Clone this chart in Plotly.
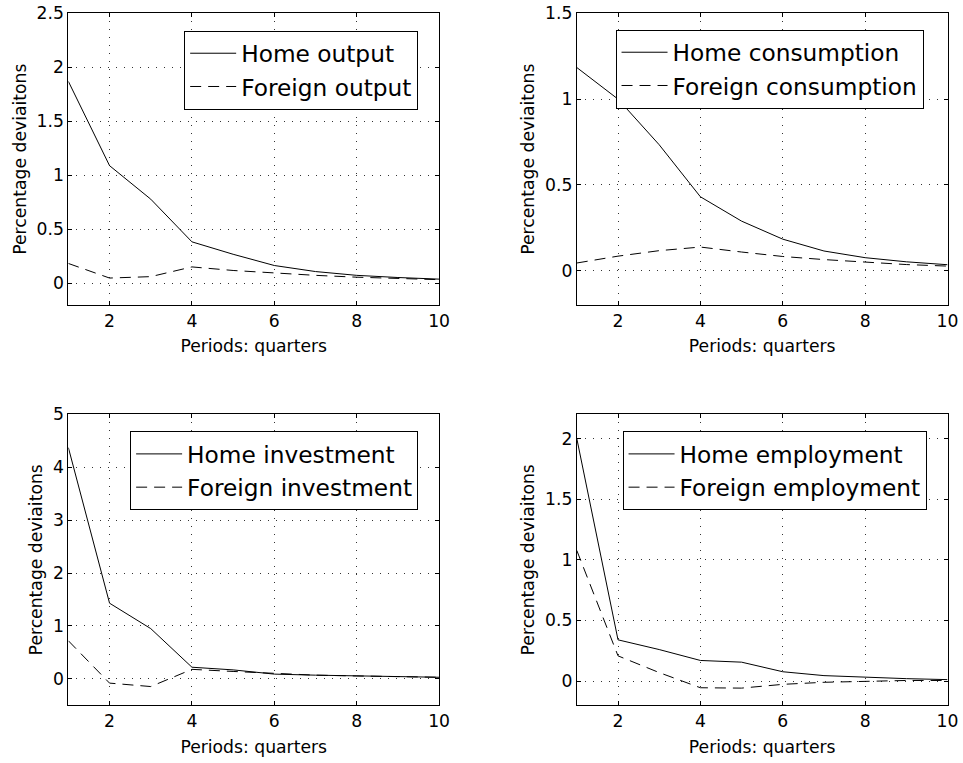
import plotly.graph_objects as go

periods = [1, 2, 3, 4, 5, 6, 7, 8, 9, 10]

home_output = [1.87, 1.09, 0.78, 0.385, 0.27, 0.166, 0.11, 0.075, 0.055, 0.04]
foreign_output = [0.185, 0.05, 0.063, 0.153, 0.12, 0.095, 0.075, 0.058, 0.045, 0.035]

home_consumption = [1.184, 1.0, 0.734, 0.431, 0.289, 0.184, 0.115, 0.076, 0.052, 0.035]
foreign_consumption = [0.045, 0.085, 0.117, 0.138, 0.109, 0.083, 0.065, 0.049, 0.036, 0.027]

home_investment = [4.37, 1.43, 0.95, 0.22, 0.17, 0.09, 0.07, 0.055, 0.04, 0.03]
foreign_investment = [0.72, -0.08, -0.145, 0.18, 0.14, 0.1, 0.07, 0.055, 0.04, 0.03]

home_employment = [2.0, 0.34, 0.26, 0.17, 0.156, 0.077, 0.045, 0.03, 0.02, 0.012]
foreign_employment = [1.077, 0.208, 0.07, -0.055, -0.058, -0.027, -0.01, 0.0, 0.005, 0.005]

panels = [
    ("Home output", "Foreign output", home_output, foreign_output, [-0.2, 2.5], [0, 0.5, 1, 1.5, 2, 2.5]),
    ("Home consumption", "Foreign consumption", home_consumption, foreign_consumption, [-0.2, 1.5], [0, 0.5, 1, 1.5]),
    ("Home investment", "Foreign investment", home_investment, foreign_investment, [-0.5, 5], [0, 1, 2, 3, 4, 5]),
    ("Home employment", "Foreign employment", home_employment, foreign_employment, [-0.2, 2.2], [0, 0.5, 1, 1.5, 2]),
]

W, H = 963, 763
S = 0.9877      # observed scale of the photographed page
OY = 9.4        # observed vertical offset of the photographed page


def px(x):
    return x / S


def py(y):
    return (y - OY) / S


# target pixel boxes of plot areas (left, right, top, bottom) as seen in the picture
boxes = [
    (68.3, 438.7, 12.7, 304.7),
    (576.3, 946.7, 12.7, 304.7),
    (68.3, 438.7, 414.0, 705.3),
    (576.3, 946.7, 414.0, 705.3),
]
legpos = [(184, 30), (615, 29), (130, 431), (622, 431)]

FONT = "DejaVu Sans, sans-serif"
FS = 17 / S
LFS = 23 / S

fig = go.Figure()
layout = dict(
    width=W, height=H,
    margin=dict(l=0, r=0, t=0, b=0),
    paper_bgcolor="white", plot_bgcolor="white",
    font=dict(family=FONT, color="black", size=FS),
    showlegend=True,
)

for i, (hn, fn, hv, fv, yr, yt) in enumerate(panels):
    idx = "" if i == 0 else str(i + 1)
    lg = "legend" if i == 0 else f"legend{i + 1}"
    fig.add_trace(go.Scatter(x=periods, y=hv, mode="lines", name=hn,
                             line=dict(color="black", width=1),
                             xaxis="x" + idx, yaxis="y" + idx, legend=lg))
    fig.add_trace(go.Scatter(x=periods, y=fv, mode="lines", name=fn,
                             line=dict(color="black", width=1, dash="11px,7px"),
                             xaxis="x" + idx, yaxis="y" + idx, legend=lg))
    l, r, t, b = boxes[i]
    common = dict(showline=True, linecolor="black", linewidth=1, mirror="ticks",
                  ticks="inside", ticklen=4, tickcolor="black",
                  showgrid=True, gridcolor="#333333", gridwidth=1, griddash="1px,7px",
                  zeroline=False, tickfont=dict(size=FS))
    layout["xaxis" + idx] = dict(
        domain=[px(l) / W, px(r) / W], range=[1, 10], tickvals=[2, 4, 6, 8, 10],
        anchor="y" + idx,
        title=dict(text="Periods: quarters", font=dict(size=FS), standoff=10),
        **common)
    layout["yaxis" + idx] = dict(
        domain=[1 - py(b) / H, 1 - py(t) / H], range=yr, tickvals=yt,
        anchor="x" + idx,
        title=dict(text="Percentage deviaitons", font=dict(size=FS), standoff=5),
        **common)
    lx, ly = legpos[i]
    layout[lg] = dict(
        x=px(lx) / W, y=1 - py(ly) / H, xanchor="left", yanchor="top",
        xref="paper", yref="paper",
        bgcolor="white", bordercolor="black", borderwidth=1,
        font=dict(size=LFS, family=FONT), tracegroupgap=0,
        itemwidth=46,
    )

fig.update_layout(**layout)
fig.write_html(
    "out.html",
    config={"displayModeBar": False},
    post_script="document.body.style.margin='0';document.body.style.overflow='hidden';",
)
